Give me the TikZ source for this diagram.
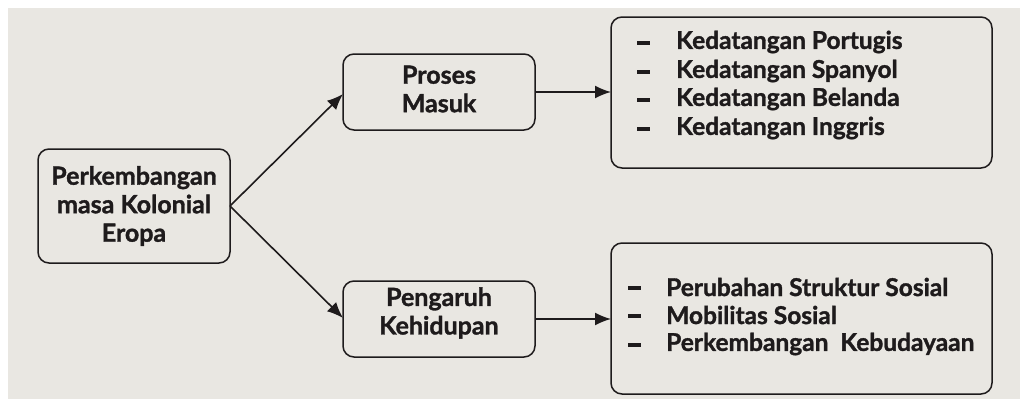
\documentclass[tikz,border=0pt]{standalone}
\usepackage{fontspec}
\setmainfont{Lato}[BoldFeatures={FakeBold=1.3}]
\usetikzlibrary{arrows.meta}
\definecolor{bg}{HTML}{E9E7E2}
\definecolor{ink}{HTML}{1E1B1C}
\newcommand{\dashbar}{\rule{13pt}{3.6pt}}
\begin{document}
\begin{tikzpicture}[x=1pt,y=-1pt,
  box/.style={draw=ink,line width=1.5pt,rounded corners=11pt},
  lbl/.style={text=ink,font=\bfseries\fontsize{25}{28.5}\selectfont,align=center,inner sep=0pt},
  lst/.style={text=ink,font=\bfseries\fontsize{24.5}{28.7}\selectfont,align=left,inner sep=0pt,anchor=west},
  arr/.style={draw=ink,line width=1.6pt,-{Latex[length=16pt,width=13pt]}}]
\useasboundingbox (0,0) rectangle (1020,399);
\fill[white] (0,0) rectangle (1020,399);
\fill[bg] (8,8) rectangle (1020,399);
% boxes
\draw[box] (38,149) rectangle (230,263);
\node[lbl] (A) at (134,206) {Perkembangan\\masa Kolonial\\Eropa};
\coordinate (Ae) at (230,206);
\draw[box] (343,54) rectangle (535,130);
\node[lbl] (B) at (439,89) {Proses\\Masuk};
\coordinate (Bw) at (343,94);
\coordinate (Be) at (535,92);
\draw[box] (343,281) rectangle (535,357);
\node[lbl] (C) at (439,313) {Pengaruh\\Kehidupan};
\coordinate (Cw) at (343,318);
\coordinate (Ce) at (535,319);
\draw[box] (611,17) rectangle (992,168);
\coordinate (Dw) at (611,92);
\draw[box] (611,243) rectangle (992,394);
\coordinate (Ew) at (611,319);
% list texts
\node[lst] (D1) at (637,43) {\dashbar};
\node[lst] (D1t) at (676,42) {Kedatangan Portugis};
\node[lst] (D2) at (637,72) {\dashbar};
\node[lst] (D2t) at (676,71) {Kedatangan Spanyol};
\node[lst] (D3) at (637,100) {\dashbar};
\node[lst] (D3t) at (676,99) {Kedatangan Belanda};
\node[lst] (D4) at (637,129) {\dashbar};
\node[lst] (D4t) at (676,128) {Kedatangan Inggris};
\node[lst] (E1) at (628,288) {\dashbar};
\node[lst] (E1t) at (666,287) {Perubahan Struktur Sosial};
\node[lst] (E2) at (628,316) {\dashbar};
\node[lst] (E2t) at (666,315) {Mobilitas Sosial};
\node[lst] (E3) at (628,345) {\dashbar};
\node[lst] (E3t) at (666,344) {Perkembangan\ \ Kebudayaan};
% arrows
\draw[arr] (Ae) -- (Bw);
\draw[arr] (Ae) -- (Cw);
\draw[arr] (Be) -- (Dw);
\draw[arr] (Ce) -- (Ew);
\end{tikzpicture}
\end{document}
